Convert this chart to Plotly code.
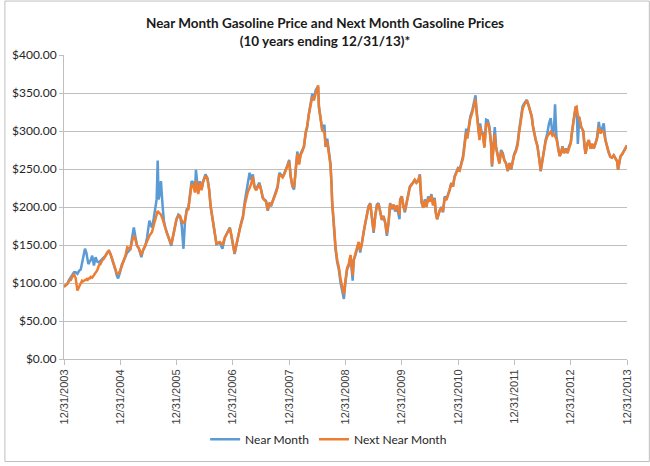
import plotly.graph_objects as go

# values, cents per gallon (shown as $ in the chart)
dates = [
    # 2004
    "2003-12-31", "2004-01-12", "2004-01-22", "2004-02-02", "2004-02-13", "2004-02-23",
    "2004-03-05", "2004-03-16", "2004-03-27", "2004-04-07", "2004-04-18", "2004-04-26",
    "2004-05-02", "2004-05-15", "2004-05-24", "2004-05-30", "2004-06-06", "2004-06-15",
    "2004-06-21", "2004-07-01", "2004-07-12", "2004-07-23", "2004-08-03", "2004-08-13",
    "2004-08-24", "2004-09-04", "2004-09-15", "2004-09-26", "2004-10-06", "2004-10-17",
    "2004-10-28", "2004-11-07", "2004-11-18", "2004-11-29", "2004-12-07", "2004-12-16",
    "2004-12-27",
    # 2005
    "2005-01-09", "2005-01-22", "2005-02-02", "2005-02-13", "2005-02-23", "2005-03-06",
    "2005-03-17", "2005-03-28", "2005-04-08", "2005-04-18", "2005-04-29", "2005-05-10",
    "2005-05-16", "2005-05-27", "2005-06-11", "2005-06-22", "2005-07-07", "2005-07-16",
    "2005-07-24", "2005-08-04", "2005-08-15", "2005-08-23", "2005-08-30", "2005-09-05",
    "2005-09-13", "2005-09-20", "2005-10-01", "2005-10-09", "2005-10-18", "2005-10-28",
    "2005-11-08", "2005-11-17", "2005-11-26", "2005-12-10", "2005-12-21", "2005-12-30",
    # 2006
    "2006-01-11", "2006-01-22", "2006-02-02", "2006-02-13", "2006-02-23", "2006-03-06",
    "2006-03-17", "2006-03-28", "2006-04-07", "2006-04-18", "2006-04-29", "2006-05-05",
    "2006-05-20", "2006-05-31", "2006-06-10", "2006-06-21", "2006-07-06", "2006-07-19",
    "2006-07-30", "2006-08-08", "2006-08-20", "2006-09-05", "2006-09-15", "2006-10-07",
    "2006-10-24", "2006-11-09", "2006-11-19", "2006-12-11", "2006-12-21", "2006-12-31",
    # 2007
    "2007-01-11", "2007-01-22", "2007-02-02", "2007-02-13", "2007-02-23", "2007-03-06",
    "2007-03-17", "2007-03-27", "2007-04-07", "2007-04-18", "2007-04-28", "2007-05-09",
    "2007-05-20", "2007-05-31", "2007-06-10", "2007-06-21", "2007-07-02", "2007-07-13",
    "2007-07-23", "2007-08-03", "2007-08-14", "2007-08-25", "2007-09-04", "2007-09-15",
    "2007-09-26", "2007-10-07", "2007-10-17", "2007-10-28", "2007-11-08", "2007-11-19",
    "2007-11-29", "2007-12-10", "2007-12-20", "2007-12-31",
    # 2008
    "2008-01-10", "2008-01-21", "2008-02-01", "2008-02-11", "2008-02-22", "2008-03-04",
    "2008-03-14", "2008-03-25", "2008-04-05", "2008-04-16", "2008-04-26", "2008-05-07",
    "2008-05-18", "2008-05-29", "2008-06-08", "2008-06-19", "2008-06-30", "2008-07-06",
    "2008-07-11", "2008-07-21", "2008-08-01", "2008-08-16", "2008-08-23", "2008-09-03",
    "2008-09-14", "2008-09-24", "2008-10-01", "2008-10-05", "2008-10-16", "2008-10-27",
    "2008-11-07", "2008-11-17", "2008-11-28", "2008-12-09", "2008-12-20", "2008-12-30",
    # 2009
    "2009-01-10", "2009-01-21", "2009-02-01", "2009-02-15", "2009-02-22", "2009-03-04",
    "2009-03-15", "2009-03-26", "2009-04-05", "2009-04-16", "2009-04-27", "2009-05-08",
    "2009-05-18", "2009-05-29", "2009-06-09", "2009-06-20", "2009-07-01", "2009-07-11",
    "2009-07-22", "2009-08-02", "2009-08-13", "2009-08-23", "2009-09-03", "2009-09-14",
    "2009-09-25", "2009-10-06", "2009-10-16", "2009-10-27", "2009-11-07", "2009-11-18",
    "2009-11-28", "2009-12-09", "2009-12-16", "2009-12-20", "2009-12-31",
    # 2010
    "2010-01-10", "2010-01-20", "2010-01-31", "2010-02-11", "2010-02-21", "2010-03-04",
    "2010-03-15", "2010-03-25", "2010-04-05", "2010-04-16", "2010-04-27", "2010-05-01",
    "2010-05-08", "2010-05-19", "2010-05-29", "2010-06-09", "2010-06-20", "2010-06-30",
    "2010-07-11", "2010-07-22", "2010-08-01", "2010-08-08", "2010-08-17", "2010-09-02",
    "2010-09-13", "2010-09-24", "2010-10-05", "2010-10-16", "2010-10-27", "2010-11-06",
    "2010-11-17", "2010-11-28", "2010-12-08", "2010-12-19", "2010-12-30",
    # 2011
    "2011-01-10", "2011-01-21", "2011-02-01", "2011-02-11", "2011-02-22", "2011-03-01",
    "2011-03-09", "2011-03-20", "2011-04-02", "2011-04-17", "2011-04-23", "2011-04-30",
    "2011-05-09", "2011-05-19", "2011-05-23", "2011-05-30", "2011-06-10", "2011-06-20",
    "2011-07-01", "2011-07-12", "2011-07-22", "2011-08-02", "2011-08-08", "2011-08-17",
    "2011-08-26", "2011-09-03", "2011-09-14", "2011-09-25", "2011-10-06", "2011-10-17",
    "2011-10-27", "2011-11-07", "2011-11-18", "2011-11-29", "2011-12-10", "2011-12-21",
    "2011-12-30",
    # 2012
    "2012-01-10", "2012-01-21", "2012-01-31", "2012-02-11", "2012-02-22", "2012-03-03",
    "2012-03-14", "2012-03-21", "2012-04-01", "2012-04-09", "2012-04-22", "2012-04-30",
    "2012-05-09", "2012-05-18", "2012-05-29", "2012-06-04", "2012-06-13", "2012-06-19",
    "2012-06-30", "2012-07-10", "2012-07-21", "2012-08-01", "2012-08-12", "2012-08-23",
    "2012-09-03", "2012-09-13", "2012-09-20", "2012-09-29", "2012-10-12", "2012-10-20",
    "2012-10-29", "2012-11-07", "2012-11-18", "2012-11-29", "2012-12-10", "2012-12-20",
    "2012-12-31",
    # 2013
    "2013-01-06", "2013-01-16", "2013-01-31", "2013-02-07", "2013-02-15", "2013-02-24",
    "2013-03-09", "2013-03-22", "2013-03-30", "2013-04-06", "2013-04-17", "2013-04-27",
    "2013-05-08", "2013-05-19", "2013-05-29", "2013-06-09", "2013-06-20", "2013-07-01",
    "2013-07-12", "2013-07-22", "2013-08-02", "2013-08-13", "2013-08-24", "2013-09-03",
    "2013-09-14", "2013-09-25", "2013-10-06", "2013-10-17", "2013-10-28", "2013-11-03",
    "2013-11-18", "2013-12-01", "2013-12-10", "2013-12-20", "2013-12-31",
]

near_month = [
    # 2004
    95, 97, 99, 104, 107, 110, 114, 114, 112, 116, 118, 126,
    132, 145, 140, 131, 125, 128, 130, 136, 123, 134, 128, 127,
    129, 131, 134, 136, 140, 142, 138, 132, 124, 117, 110, 106, 113,
    # 2005
    124, 130, 136, 140, 142, 145, 160, 173, 160, 149, 146, 138,
    134, 143, 149, 160, 182, 176, 173, 185, 197, 210, 261, 210,
    218, 234, 201, 182, 173, 166, 160, 154, 149, 164, 174, 184,
    # 2006
    190, 188, 175, 145, 180, 197, 199, 214, 234, 232, 221, 249,
    219, 234, 223, 234, 243, 238, 223, 201, 184, 167, 151, 153,
    145, 160, 164, 173, 162, 151,
    # 2007
    138, 149, 162, 171, 180, 188, 206, 217, 230, 245, 236, 243,
    227, 223, 228, 232, 223, 212, 210, 208, 195, 206, 201, 207,
    214, 220, 227, 245, 243, 240, 244, 249, 255, 262,
    # 2008
    240, 227, 223, 249, 273, 257, 270, 275, 279, 297, 305, 323,
    338, 349, 340, 353, 357, 358, 331, 314, 303, 308, 279, 290,
    270, 257, 229, 205, 175, 144, 127, 118, 101, 92, 79, 101,
    # 2009
    118, 123, 136, 103, 131, 136, 144, 153, 140, 151, 166, 179,
    192, 201, 205, 188, 166, 188, 203, 205, 192, 183, 188, 179,
    162, 179, 205, 197, 203, 194, 201, 188, 184, 210, 214,
    # 2010
    201, 193, 206, 219, 227, 230, 232, 236, 232, 234, 243, 223,
    206, 199, 210, 201, 214, 208, 217, 203, 212, 193, 184, 195,
    200, 193, 214, 210, 216, 223, 232, 227, 240, 245, 251,
    # 2011
    249, 258, 267, 284, 303, 293, 306, 319, 327, 340, 347, 327,
    310, 290, 310, 301, 297, 280, 315, 314, 306, 284, 253, 280,
    305, 280, 267, 258, 275, 271, 262, 258, 247, 258, 249, 264, 270,
    # 2012
    275, 284, 301, 314, 332, 336, 340, 341, 334, 327, 319, 306,
    295, 288, 280, 267, 258, 247, 262, 275, 288, 297, 310, 317,
    297, 301, 335, 293, 275, 267, 271, 280, 271, 277, 271, 280, 285,
    # 2013
    296, 310, 331, 332, 283, 318, 305, 300, 279, 270, 283, 288,
    277, 283, 277, 283, 292, 312, 297, 305, 310, 288, 279, 272,
    266, 265, 268, 263, 260, 249, 266, 270, 273, 276, 281,
]

next_month = [
    # 2004
    95, 97, 99, 103, 104, 108, 112, 106, 90, 95, 101, 103,
    102, 104, 105, 103, 106, 106, 108, 107, 110, 114, 117, 123,
    125, 130, 132, 136, 140, 143, 138, 132, 124, 117, 113, 112, 115,
    # 2005
    122, 130, 136, 147, 146, 145, 155, 162, 157, 149, 146, 140,
    137, 143, 149, 155, 162, 165, 167, 176, 184, 190, 195, 193,
    192, 190, 184, 178, 173, 166, 160, 155, 151, 164, 174, 184,
    # 2006
    188, 188, 182, 178, 182, 195, 197, 212, 230, 228, 219, 235,
    217, 232, 222, 233, 241, 237, 222, 202, 185, 168, 152, 154,
    150, 160, 164, 172, 163, 152,
    # 2007
    139, 150, 162, 170, 178, 186, 202, 212, 220, 225, 230, 240,
    226, 222, 227, 230, 222, 212, 209, 207, 196, 205, 202, 207,
    213, 219, 226, 243, 241, 239, 243, 248, 253, 260,
    # 2008
    240, 228, 226, 248, 270, 256, 268, 273, 280, 298, 307, 322,
    334, 345, 341, 350, 356, 360, 333, 315, 301, 298, 280, 286,
    266, 255, 230, 207, 178, 147, 130, 121, 106, 96, 85, 103,
    # 2009
    120, 125, 137, 110, 130, 138, 146, 154, 143, 152, 167, 180,
    192, 200, 204, 189, 168, 187, 201, 204, 192, 184, 188, 180,
    165, 180, 204, 198, 203, 196, 202, 192, 190, 209, 214,
    # 2010
    201, 195, 205, 218, 226, 229, 232, 236, 232, 234, 242, 224,
    207, 199, 208, 200, 212, 207, 215, 202, 210, 193, 184, 195,
    199, 194, 212, 209, 215, 222, 231, 227, 239, 244, 250,
    # 2011
    248, 256, 264, 280, 298, 290, 303, 316, 324, 336, 342, 325,
    308, 288, 306, 298, 294, 278, 308, 311, 303, 282, 255, 276,
    296, 278, 266, 257, 273, 269, 261, 257, 248, 257, 250, 262, 268,
    # 2012
    273, 281, 298, 312, 328, 334, 339, 340, 334, 327, 319, 306,
    295, 288, 280, 267, 258, 248, 261, 274, 286, 293, 297, 299,
    294, 296, 293, 290, 275, 267, 271, 279, 271, 276, 271, 279, 284,
    # 2013
    296, 310, 331, 332, 320, 318, 305, 300, 279, 270, 283, 288,
    277, 283, 277, 283, 290, 305, 297, 300, 299, 288, 279, 272,
    266, 265, 268, 263, 260, 249, 266, 270, 273, 276, 281,
]

year_ticks = ["%d-12-31" % y for y in range(2003, 2014)]
y_ticks = list(range(0, 401, 50))
y_labels = ["$%.2f" % v for v in y_ticks]

BLUE = "#5B9BD5"
ORANGE = "#ED7D31"
GRID = "#BFBFBF"

fig = go.Figure()
fig.add_trace(go.Scatter(x=dates, y=near_month, name="Near Month", mode="lines",
                         line=dict(color=BLUE, width=2.5)))
fig.add_trace(go.Scatter(x=dates, y=next_month, name="Next Near Month", mode="lines",
                         line=dict(color=ORANGE, width=2.5)))

# plot area in pixels: left 60, right 627, top 55, bottom 362
ml, mr, mt, mb = 60, 23, 55, 104
pw, ph = 650 - ml - mr, 466 - mt - mb

fig.update_layout(
    width=650, height=466,
    margin=dict(l=ml, r=mr, t=mt, b=mb),
    paper_bgcolor="white", plot_bgcolor="white",
    title=dict(
        text="<b>Near Month Gasoline Price and Next Month Gasoline Prices</b><br>"
             "<b>(10 years ending 12/31/13)*</b>",
        x=0.5, xanchor="center", y=1 - 28 / 466, yanchor="middle",
        font=dict(family="Lato, sans-serif", size=13.5, color="#1a1a1a"),
    ),
    xaxis=dict(
        type="date",
        range=[year_ticks[0], year_ticks[-1]],
        tickvals=year_ticks, tickformat="%m/%d/%Y", tickangle=-90,
        showgrid=False, showline=True, linecolor=GRID, linewidth=1,
        ticks="outside", ticklen=5, tickcolor=GRID,
        tickfont=dict(family="Liberation Sans, Arial, sans-serif", size=11, color="#404040"),
        zeroline=False,
    ),
    yaxis=dict(
        range=[0, 400], tickvals=y_ticks, ticktext=y_labels,
        showgrid=True, gridcolor=GRID, gridwidth=1,
        showline=True, linecolor=GRID, linewidth=1,
        ticks="outside", ticklen=4, tickcolor=GRID,
        tickfont=dict(family="Lato, sans-serif", size=12, color="#262626"),
        zeroline=False,
    ),
    legend=dict(
        orientation="h", x=0.47, xanchor="center", y=-(443 - 362) / ph, yanchor="middle",
        font=dict(family="Lato, sans-serif", size=12, color="#262626"),
        bgcolor="rgba(0,0,0,0)",
    ),
    showlegend=True,
)

# light border round the whole chart, as in the spreadsheet export
fig.add_shape(type="rect", xref="paper", yref="paper",
              x0=-(ml - 0.5) / pw, x1=1 + (mr - 0.5) / pw,
              y0=-(mb - 0.5) / ph, y1=1 + (mt - 0.5) / ph,
              line=dict(color=GRID, width=1), layer="below")

# drop the page's default body margin so the chart sits at the window's corner
fig.write_html("out.html", config={"displayModeBar": False},
               post_script="document.body.style.margin='0px';")
